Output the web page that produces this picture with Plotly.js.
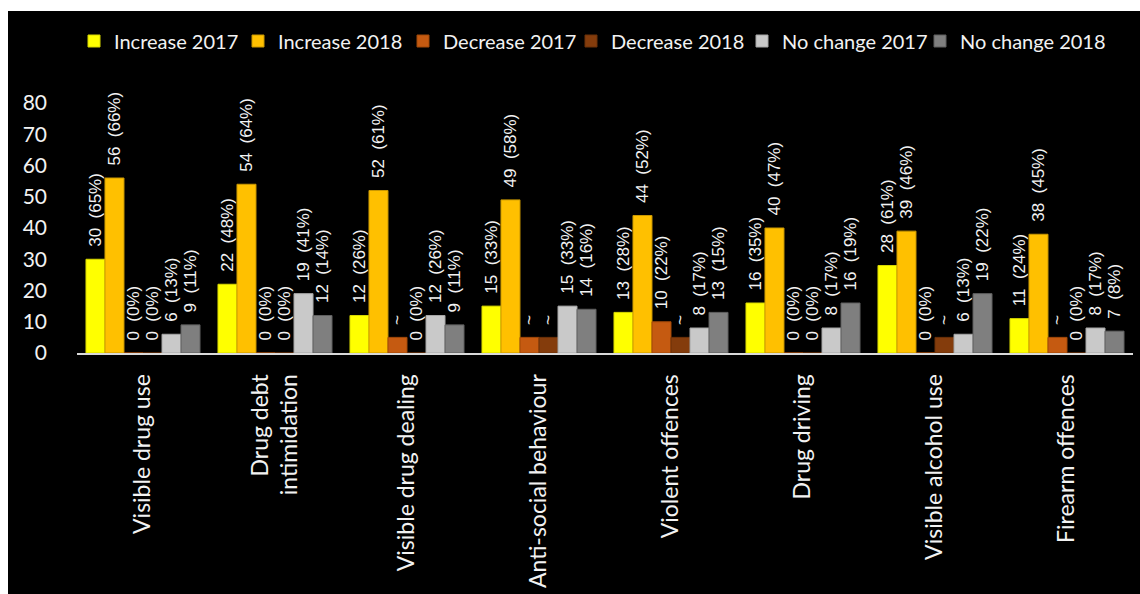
<!DOCTYPE html>
<html>
<head>
<meta charset="utf-8">
<script src="https://cdn.plot.ly/plotly-3.0.1.min.js"></script>
<style>
  html, body { margin: 0; padding: 0; background: #ffffff; width: 1140px; height: 594px; overflow: hidden; }
  #chart { position: absolute; left: 8px; top: 11px; width: 1132px; height: 583px; }
</style>
</head>
<body>
<div id="chart"></div>
<script>
const categories = ['Visible drug use', 'Drug debt<br>intimidation', 'Visible drug dealing', 'Anti-social behaviour',
                    'Violent offences', 'Drug driving', 'Visible alcohol use', 'Firearm offences'];

const seriesNames = ['Increase 2017', 'Increase 2018', 'Decrease 2017', 'Decrease 2018', 'No change 2017', 'No change 2018'];

// counts (suppressed values "~" drawn at their plotted height)
const increase2017 = [30, 22, 12, 15, 13, 16, 28, 11];
const increase2018 = [56, 54, 52, 49, 44, 40, 39, 38];
const decrease2017 = [0, 0, 5, 5, 10, 0, 0, 5];
const decrease2018 = [0, 0, 0, 5, 5, 0, 5, 0];
const noChange2017 = [6, 19, 12, 15, 8, 8, 6, 8];
const noChange2018 = [9, 12, 9, 14, 13, 16, 19, 7];

// percentages (null = suppressed, shown as "~")
const increase2017Pct = [65, 48, 26, 33, 28, 35, 61, 24];
const increase2018Pct = [66, 64, 61, 58, 52, 47, 46, 45];
const decrease2017Pct = [0, 0, null, null, 22, 0, 0, null];
const decrease2018Pct = [0, 0, 0, null, null, 0, null, 0];
const noChange2017Pct = [13, 41, 26, 33, 17, 17, 13, 17];
const noChange2018Pct = [11, 14, 11, 16, 15, 19, 22, 8];

const colors = ['#ffff00', '#ffc000', '#c55a11', '#843c0c', '#c9c9c9', '#7f7f7f'];
const lineColors = ['#d6d600', '#c99700', '#a04808', '#6a3009', '#a6a6a6', '#5f5f5f'];

const values = [increase2017, increase2018, decrease2017, decrease2018, noChange2017, noChange2018];
const pcts = [increase2017Pct, increase2018Pct, decrease2017Pct, decrease2018Pct, noChange2017Pct, noChange2018Pct];

// legend entry left edges (px from the plot area's left edge)
const legendOffsetsPx = [-3, 161, 326, 494, 665, 843];
const plotWidthPx = 1056;

function label(v, p) {
  if (p === null) return '\u00a0\u00a0~';
  return '\u00a0\u00a0' + v + ' \u00a0(' + p + '%)';
}

const legendIds = seriesNames.map((_, i) => i === 0 ? 'legend' : 'legend' + (i + 1));

const traces = seriesNames.map((name, i) => ({
  type: 'bar',
  name: name,
  legend: legendIds[i],
  x: categories,
  y: values[i],
  text: values[i].map((v, j) => label(v, pcts[i][j])),
  textposition: 'outside',
  textangle: -90,
  cliponaxis: false,
  constraintext: 'none',
  textfont: { family: 'Liberation Sans, Arial, sans-serif', size: 17, color: '#f2f2f2' },
  marker: { color: colors[i], line: { color: lineColors[i], width: 1 } },
  hoverinfo: 'x+y+name'
}));

const layout = {
  width: 1132,
  height: 583,
  paper_bgcolor: '#000000',
  plot_bgcolor: '#000000',
  margin: { l: 69, r: 7, t: 92, b: 241, pad: 0 },
  barmode: 'group',
  bargap: 0.136,
  bargroupgap: 0,
  font: { family: 'Lato, Carlito, Calibri, sans-serif', size: 20, color: '#f2f2f2' },
  showlegend: true,
  xaxis: {
    type: 'category',
    showline: true,
    linecolor: '#d9d9d9',
    linewidth: 2,
    showgrid: false,
    zeroline: false,
    ticks: '',
    tickangle: -90,
    ticklabelstandoff: 10,
    tickfont: { family: 'Lato, Carlito, Calibri, sans-serif', size: 23, color: '#f2f2f2' },
    fixedrange: true
  },
  yaxis: {
    range: [0, 80],
    dtick: 10,
    tick0: 0,
    showline: false,
    showgrid: false,
    zeroline: false,
    ticks: '',
    ticklabelstandoff: 29,
    tickfont: { family: 'Lato, Carlito, Calibri, sans-serif', size: 21, color: '#f2f2f2' },
    fixedrange: true
  }
};

legendIds.forEach((id, i) => {
  layout[id] = {
    orientation: 'h',
    x: legendOffsetsPx[i] / plotWidthPx, xanchor: 'left',
    yref: 'container', y: 1 - 30 / 583, yanchor: 'middle',
    font: { family: 'Lato, Carlito, Calibri, sans-serif', size: 20, color: '#f2f2f2' },
    bgcolor: 'rgba(0,0,0,0)'
  };
});

Plotly.newPlot('chart', traces, layout, { displayModeBar: false, staticPlot: true });
</script>
</body>
</html>
